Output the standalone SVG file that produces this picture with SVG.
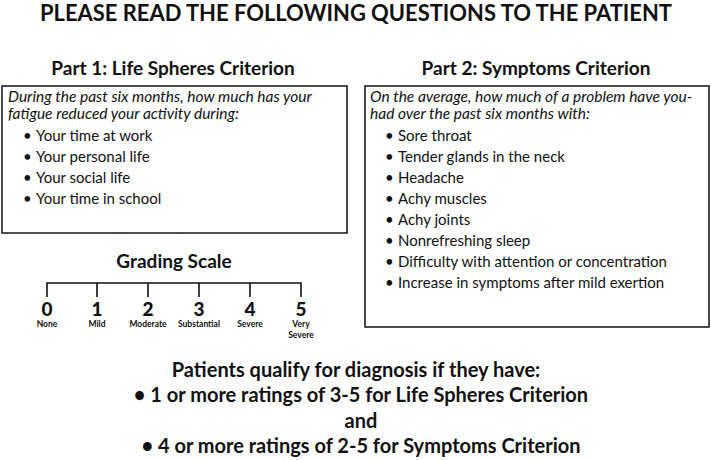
<svg xmlns="http://www.w3.org/2000/svg" width="711" height="460" viewBox="0 0 711 460">
<style>
text{font-family:Lato,"Open Sans","Liberation Sans",sans-serif;fill:#111}
.title{font-size:22px;font-weight:700;text-anchor:middle}
.hdr{font-size:19px;font-weight:700;text-anchor:middle}
.it{font-size:15.5px;font-style:italic}
.li{font-size:15px}
.box{fill:#fff;stroke:#111;stroke-width:1.5}
.num{font-size:19px;font-weight:900;text-anchor:middle}
.lab{font-size:8.5px;font-weight:700;text-anchor:middle}
.bot{font-size:20px;font-weight:700;text-anchor:middle}
.ln{stroke:#111;stroke-width:1.6;fill:none}
</style>
<rect width="711" height="460" fill="#fff"/>
<text class="title" x="356" y="21" textLength="632" lengthAdjust="spacingAndGlyphs">PLEASE READ THE FOLLOWING QUESTIONS TO THE PATIENT</text>
<g id="part1">
<text class="hdr" x="173" y="75">Part 1: Life Spheres Criterion</text>
<rect class="box" x="2" y="86" width="345" height="147"/>
<text class="it" x="8" y="102">During the past six months, how much has your</text>
<text class="it" x="8" y="119">fatigue reduced your activity during:</text>
<text class="li" x="23" y="141">•</text><text class="li" x="36" y="141">Your time at work</text>
<text class="li" x="23" y="162">•</text><text class="li" x="36" y="162">Your personal life</text>
<text class="li" x="23" y="183">•</text><text class="li" x="36" y="183">Your social life</text>
<text class="li" x="23" y="204">•</text><text class="li" x="36" y="204">Your time in school</text>
</g>
<g id="part2">
<text class="hdr" x="536" y="75">Part 2: Symptoms Criterion</text>
<rect class="box" x="365" y="86" width="344" height="241"/>
<text class="it" x="370" y="102">On the average, how much of a problem have you-</text>
<text class="it" x="370" y="119">had over the past six months with:</text>
<text class="li" x="385" y="141">•</text><text class="li" x="398" y="141">Sore throat</text>
<text class="li" x="385" y="162">•</text><text class="li" x="398" y="162">Tender glands in the neck</text>
<text class="li" x="385" y="183">•</text><text class="li" x="398" y="183">Headache</text>
<text class="li" x="385" y="204">•</text><text class="li" x="398" y="204">Achy muscles</text>
<text class="li" x="385" y="225">•</text><text class="li" x="398" y="225">Achy joints</text>
<text class="li" x="385" y="246">•</text><text class="li" x="398" y="246">Nonrefreshing sleep</text>
<text class="li" x="385" y="267">•</text><text class="li" x="398" y="267">Difficulty with attention or concentration</text>
<text class="li" x="385" y="288">•</text><text class="li" x="398" y="288">Increase in symptoms after mild exertion</text>
</g>
<g id="scale">
<text class="hdr" x="174" y="268">Grading Scale</text>
<path class="ln" d="M47 297V283H301V297M97 283V297M148 283V297M199 283V297M250 283V297"/>
<text class="num" x="47" y="316">0</text>
<text class="num" x="97" y="316">1</text>
<text class="num" x="148" y="316">2</text>
<text class="num" x="199" y="316">3</text>
<text class="num" x="250" y="316">4</text>
<text class="num" x="301" y="316">5</text>
<text class="lab" x="47" y="327">None</text>
<text class="lab" x="97" y="327">Mild</text>
<text class="lab" x="148" y="327">Moderate</text>
<text class="lab" x="199" y="327">Substantial</text>
<text class="lab" x="250" y="327">Severe</text>
<text class="lab" x="301" y="327">Very</text>
<text class="lab" x="301" y="338">Severe</text>
</g>
<g id="criteria">
<text class="bot" x="356" y="377">Patients qualify for diagnosis if they have:</text>
<text class="bot" x="361" y="402">• 1 or more ratings of 3-5 for Life Spheres Criterion</text>
<text class="bot" x="361" y="428">and</text>
<text class="bot" x="361" y="453">• 4 or more ratings of 2-5 for Symptoms Criterion</text>
</g>
</svg>
